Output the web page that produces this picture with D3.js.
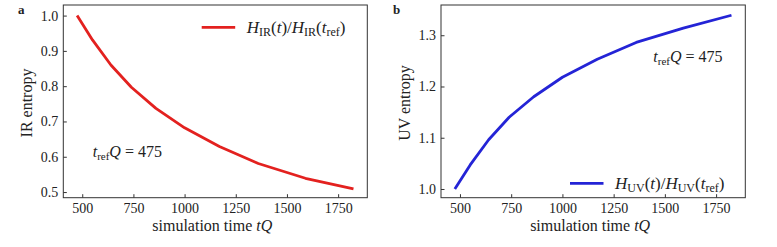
<!DOCTYPE html>
<html>
<head>
<meta charset="utf-8">
<script src="https://cdn.jsdelivr.net/npm/d3@7"></script>
<style>
  body { margin: 0; background: #fff; }
</style>
</head>
<body>
<svg width="777" height="247" font-family="'Liberation Serif', 'Times New Roman', Times, 'DejaVu Serif', serif"></svg>
<script>
// simulation times (tQ) and normalised entropies
var times = [475, 550, 640, 740, 860, 1000, 1170, 1360, 1590, 1825];
var irEntropy = [1.0, 0.931, 0.860, 0.797, 0.737, 0.682, 0.629, 0.581, 0.539, 0.509];
var uvEntropy = [1.0, 1.047, 1.096, 1.140, 1.180, 1.218, 1.253, 1.286, 1.314, 1.339];
var xTicks = [500, 750, 1000, 1250, 1500, 1750];
var irTicks = [0.5, 0.6, 0.7, 0.8, 0.9, 1.0];
var uvTicks = [1.0, 1.1, 1.2, 1.3];

var svg = d3.select("svg");
var serif = "'Liberation Serif', 'Times New Roman', Times, 'DejaVu Serif', serif";
var tickSize = 14;
var labelSize = 16;
var subSize = 11;

function mathLabel(g, x, y, sub) {
    // H_sub(t)/H_sub(t_ref)
    var t = g.append("text").attr("x", x).attr("y", y).attr("font-size", 17);
    t.append("tspan").attr("font-style", "italic").text("H");
    t.append("tspan").attr("dy", 3).attr("font-size", 12).text(sub);
    t.append("tspan").attr("dy", -3).text("(");
    t.append("tspan").attr("font-style", "italic").text("t");
    t.append("tspan").text(")/");
    t.append("tspan").attr("font-style", "italic").text("H");
    t.append("tspan").attr("dy", 3).attr("font-size", 12).text(sub);
    t.append("tspan").attr("dy", -3).text("(");
    t.append("tspan").attr("font-style", "italic").text("t");
    t.append("tspan").attr("dy", 3).attr("font-size", 12).text("ref");
    t.append("tspan").attr("dy", -3).text(")");
}

function trefLabel(g, x, y) {
    var t = g.append("text").attr("x", x).attr("y", y).attr("font-size", labelSize);
    t.append("tspan").attr("font-style", "italic").text("t");
    t.append("tspan").attr("dy", 3).attr("font-size", subSize).text("ref");
    t.append("tspan").attr("dy", -3).attr("font-style", "italic").text("Q");
    t.append("tspan").text(" = 475");
}

function styleAxis(a) {
    a.attr("font-family", serif);
    a.select(".domain").remove();
    a.selectAll("line").attr("stroke", "#333");
    a.selectAll("text").attr("font-size", tickSize).attr("fill", "#222");
}

function drawPanel(opt) {
    var g = svg.append("g").attr("fill", "#222");
    var x = d3.scaleLinear().domain([407.5, 1892.5]).range([opt.left, opt.right]);
    var y = d3.scaleLinear().domain(opt.yDomain).range([197.7, 5]);

    g.append("g")
        .attr("transform", "translate(0,197.7)")
        .call(d3.axisBottom(x).tickValues(xTicks).tickSizeInner(-3.5).tickSizeOuter(0).tickPadding(5)
            .tickFormat(d3.format("d")))
        .call(styleAxis);

    g.append("g")
        .attr("transform", "translate(" + opt.left + ",0)")
        .call(d3.axisLeft(y).tickValues(opt.yTicks).tickSizeInner(-3.5).tickSizeOuter(0).tickPadding(5)
            .tickFormat(d3.format(".1f")))
        .call(styleAxis);

    g.append("rect")
        .attr("x", opt.left).attr("y", 5)
        .attr("width", opt.right - opt.left).attr("height", 192.7)
        .attr("fill", "none").attr("stroke", "#333").attr("stroke-width", 1);

    var line = d3.line()
        .x(function (d, i) { return x(times[i]); })
        .y(function (d) { return y(d); });

    g.append("path")
        .datum(opt.values)
        .attr("d", line)
        .attr("fill", "none")
        .attr("stroke", opt.color)
        .attr("stroke-width", 2.8)
        .attr("stroke-linejoin", "round");

    // axis titles
    var xt = g.append("text")
        .attr("x", (opt.left + opt.right) / 2 - 3).attr("y", 231)
        .attr("text-anchor", "middle").attr("font-size", labelSize);
    xt.append("tspan").text("simulation time ");
    xt.append("tspan").attr("font-style", "italic").text("tQ");

    g.append("text")
        .attr("transform", "translate(" + opt.ytitleX + ",103) rotate(-90)")
        .attr("text-anchor", "middle").attr("font-size", labelSize)
        .text(opt.ytitle);

    g.append("text")
        .attr("x", opt.panelX).attr("y", 13.5)
        .attr("font-size", 13).attr("font-weight", "bold")
        .text(opt.panel);

    // legend
    g.append("line")
        .attr("x1", opt.legX).attr("x2", opt.legX + 33.5)
        .attr("y1", opt.legY).attr("y2", opt.legY)
        .attr("stroke", opt.color).attr("stroke-width", 2.8);
    mathLabel(g, opt.legX + 45, opt.legY + 5.5, opt.sub);

    trefLabel(g, opt.trefX, opt.trefY);
}

drawPanel({
    left: 63.3, right: 367.3, yDomain: [0.484, 1.030], yTicks: irTicks,
    values: irEntropy, color: "#e3211f", ytitle: "IR entropy", ytitleX: 32,
    panel: "a", panelX: 18, sub: "IR", legX: 201.7, legY: 27.3,
    trefX: 92.7, trefY: 157
});

drawPanel({
    left: 441, right: 745.3, yDomain: [0.983, 1.359], yTicks: uvTicks,
    values: uvEntropy, color: "#2424d6", ytitle: "UV entropy", ytitleX: 409.5,
    panel: "b", panelX: 393, sub: "UV", legX: 570, legY: 183.3,
    trefX: 653.3, trefY: 61.7
});
</script>
</body>
</html>
